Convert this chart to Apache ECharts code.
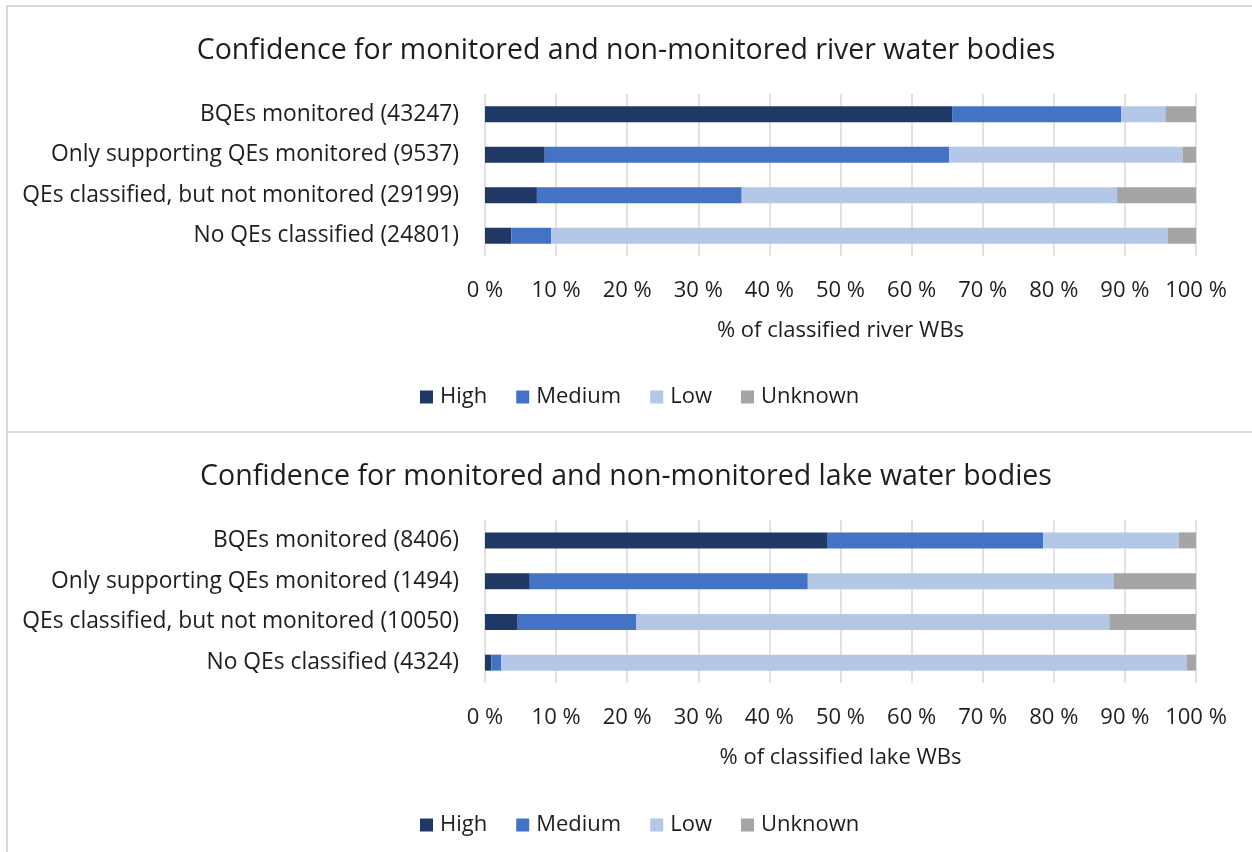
<!DOCTYPE html>
<html>
<head>
<meta charset="utf-8">
<title>Confidence for monitored and non-monitored water bodies</title>
<script src="https://cdn.jsdelivr.net/npm/echarts@6/dist/echarts.min.js"></script>
<style>
  html, body { margin: 0; padding: 0; background: #fff; }
  #main { width: 1252px; height: 852px; }
</style>
</head>
<body>
<div id="main"></div>
<script>
// 类别与数值（%）
var riverCats = [
  'BQEs monitored (43247)',
  'Only supporting QEs monitored (9537)',
  'QEs classified, but not monitored (29199)',
  'No QEs classified (24801)'
]
var riverHigh    = [65.7, 8.4, 7.3, 3.7]
var riverMedium  = [23.8, 56.9, 28.8, 5.6]
var riverLow     = [6.2, 32.8, 52.8, 86.7]
var riverUnknown = [4.3, 1.9, 11.1, 4.0]

var lakeCats = [
  'BQEs monitored (8406)',
  'Only supporting QEs monitored (1494)',
  'QEs classified, but not monitored (10050)',
  'No QEs classified (4324)'
]
var lakeHigh    = [48.1, 6.3, 4.6, 0.9]
var lakeMedium  = [30.4, 39.1, 16.7, 1.4]
var lakeLow     = [19.1, 43.0, 66.5, 96.4]
var lakeUnknown = [2.4, 11.6, 12.2, 1.3]

var levelNames = ['High', 'Medium', 'Low', 'Unknown']
var levelColors = ['#203864', '#4472C4', '#B4C7E7', '#A5A5A5']

var FONT = '"Open Sans", "Noto Sans", sans-serif'
var TXT = '#1e1e1e'
var FS = 22

var myChart = echarts.init(document.getElementById('main'))

function xAxisOf(gridIndex, name) {
  return {
    type: 'value',
    gridIndex: gridIndex,
    min: 0,
    max: 100,
    interval: 10,
    name: name,
    nameLocation: 'middle',
    nameGap: 64,
    nameTextStyle: { fontFamily: FONT, fontSize: FS, color: TXT },
    axisLine: { show: false },
    axisTick: { show: false },
    axisLabel: {
      margin: 24,
      fontFamily: FONT,
      fontSize: FS,
      color: TXT,
      formatter: '{value} %'
    },
    splitLine: { show: true, lineStyle: { color: '#D9D9D9', width: 1.5 } }
  }
}

function yAxisOf(gridIndex, cats) {
  return {
    type: 'category',
    gridIndex: gridIndex,
    inverse: true,
    data: cats,
    axisLine: { show: false },
    axisTick: { show: false },
    axisLabel: { margin: 26, fontFamily: FONT, fontSize: 22.8, color: TXT }
  }
}

function barsOf(idx, stack, lists) {
  return lists.map(function (d, i) {
    return {
      name: levelNames[i],
      type: 'bar',
      stack: stack,
      xAxisIndex: idx,
      yAxisIndex: idx,
      barWidth: 16,
      itemStyle: { color: levelColors[i] },
      emphasis: { disabled: true },
      data: d
    }
  })
}

function legendOf(top) {
  return {
    top: top,
    left: 415,
    icon: 'rect',
    itemWidth: 13,
    itemHeight: 13,
    itemGap: 29,
    textStyle: { fontFamily: FONT, fontSize: FS, color: TXT, padding: [0, 0, 0, 2] },
    data: levelNames
  }
}

var option = {
  backgroundColor: '#fff',
  animation: false,
  title: [
    {
      text: 'Confidence for monitored and non-monitored river water bodies',
      left: 'center', top: 31,
      textStyle: { fontFamily: FONT, fontSize: 28.5, fontWeight: 'normal', color: TXT }
    },
    {
      text: 'Confidence for monitored and non-monitored lake water bodies',
      left: 'center', top: 457,
      textStyle: { fontFamily: FONT, fontSize: 28.5, fontWeight: 'normal', color: TXT }
    }
  ],
  legend: [legendOf(381), legendOf(809)],
  grid: [
    { left: 485, width: 711, top: 94, height: 162 },
    { left: 485, width: 711, top: 520, height: 163 }
  ],
  xAxis: [
    xAxisOf(0, '% of classified river WBs'),
    xAxisOf(1, '% of classified lake WBs')
  ],
  yAxis: [
    yAxisOf(0, riverCats),
    yAxisOf(1, lakeCats)
  ],
  series: barsOf(0, 'river', [riverHigh, riverMedium, riverLow, riverUnknown])
    .concat(barsOf(1, 'lake', [lakeHigh, lakeMedium, lakeLow, lakeUnknown])),
  graphic: [
    /* 面板边框 */
    {
      type: 'rect', silent: true,
      shape: { x: 7, y: 6, width: 1260, height: 426 },
      style: { fill: null, stroke: '#D9D9D9', lineWidth: 2 }
    },
    {
      type: 'rect', silent: true,
      shape: { x: 7, y: 432, width: 1260, height: 440 },
      style: { fill: null, stroke: '#D9D9D9', lineWidth: 2 }
    }
  ]
}

myChart.setOption(option, true)
</script>
</body>
</html>
